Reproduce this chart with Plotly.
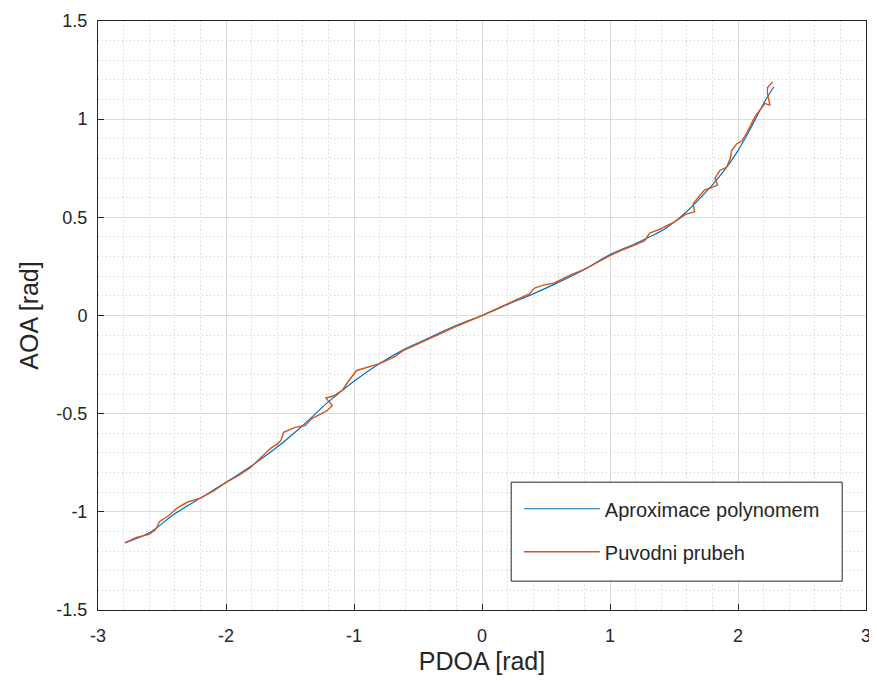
import plotly.graph_objects as go

# polynomial approximation (blue)
poly_x = [-2.79, -2.6, -2.4, -2.2, -2.0, -1.8, -1.6, -1.4, -1.2, -1.0, -0.8, -0.6, -0.4, -0.2,
          0.0, 0.2, 0.4, 0.6, 0.8, 1.0, 1.2, 1.4, 1.5, 1.6, 1.7, 1.8, 1.9, 2.0, 2.1, 2.2, 2.28]
poly_y = [-1.158, -1.107, -1.01, -0.93, -0.85, -0.765, -0.67, -0.56, -0.44, -0.335, -0.245, -0.17, -0.11, -0.05,
          0.0, 0.056, 0.11, 0.17, 0.235, 0.31, 0.367, 0.43, 0.475, 0.53, 0.595, 0.665, 0.745, 0.84, 0.955, 1.08, 1.165]

# original measured curve (orange)
orig_x = [-2.79, -2.70, -2.60, -2.55, -2.52, -2.45, -2.38, -2.30, -2.20, -2.10, -2.00, -1.90, -1.81,
          -1.72, -1.65, -1.60, -1.57, -1.55, -1.46, -1.38, -1.33, -1.21, -1.17, -1.22, -1.16, -1.09,
          -1.05, -0.98, -0.90, -0.80, -0.68, -0.62, -0.50, -0.40, -0.20, 0.00, 0.20, 0.37, 0.41, 0.48,
          0.56, 0.70, 0.80, 1.00, 1.10, 1.20, 1.27, 1.31, 1.39, 1.50, 1.59, 1.66, 1.65, 1.70, 1.74,
          1.79, 1.84, 1.82, 1.86, 1.91, 1.94, 1.95, 1.99, 2.03, 2.07, 2.13, 2.16, 2.21, 2.25, 2.23,
          2.23, 2.27]
orig_y = [-1.158, -1.13, -1.115, -1.09, -1.05, -1.02, -0.98, -0.95, -0.93, -0.895, -0.85, -0.815, -0.775,
          -0.72, -0.675, -0.655, -0.635, -0.595, -0.57, -0.56, -0.525, -0.485, -0.458, -0.42, -0.41, -0.38,
          -0.34, -0.28, -0.265, -0.245, -0.21, -0.18, -0.145, -0.115, -0.055, 0.0, 0.06, 0.11, 0.14, 0.155,
          0.165, 0.21, 0.235, 0.305, 0.335, 0.36, 0.38, 0.42, 0.44, 0.475, 0.515, 0.528, 0.57, 0.61, 0.64,
          0.65, 0.665, 0.70, 0.74, 0.755, 0.80, 0.84, 0.875, 0.89, 0.93, 1.01, 1.035, 1.08, 1.07, 1.13,
          1.16, 1.19]

x_ticks = [-3, -2, -1, 0, 1, 2, 3]
x_labels = ["-3", "-2", "-1", "0", "1", "2", "3"]
y_ticks = [-1.5, -1, -0.5, 0, 0.5, 1, 1.5]
y_labels = ["-1.5", "-1", "-0.5", "0", "0.5", "1", "1.5"]

fig = go.Figure()
fig.add_trace(go.Scatter(x=poly_x, y=poly_y, mode="lines", name="Aproximace polynomem",
                         line=dict(color="#0072BD", width=1.2, shape="spline"),
                         legendgroup="a"))
fig.add_trace(go.Scatter(x=orig_x, y=orig_y, mode="lines", name="Puvodni prubeh",
                         line=dict(color="#D95319", width=1.4), legendgroup="b"))

axis_common = dict(
    showline=True, mirror=True, linecolor="#262626", linewidth=1,
    ticks="inside", ticklen=6, tickcolor="#262626", automargin=False,
    ticklabeloverflow="allow",
    showgrid=True, gridcolor="#dcdcdc", gridwidth=1, zeroline=False,
    tickfont=dict(family="Liberation Sans", size=18, color="#262626"),
    title_font=dict(family="Liberation Sans", size=25, color="#262626"),
)

fig.update_xaxes(range=[-3, 3], tickvals=x_ticks, ticktext=x_labels,
                 title_text="PDOA [rad]", title_standoff=7, ticklabelstandoff=9,
                 minor=dict(dtick=0.2, showgrid=True, gridcolor="#c8c8c8", griddash="1px,3px"),
                 **axis_common)
fig.update_yaxes(range=[-1.5, 1.5], tickvals=y_ticks, ticktext=y_labels,
                 title_text="AOA [rad]", title_standoff=10, ticklabelstandoff=6,
                 minor=dict(dtick=0.1, showgrid=True, gridcolor="#c8c8c8", griddash="1px,3px"),
                 **axis_common)

# legend frame
fig.add_shape(type="rect", xref="paper", yref="paper", x0=0.538, x1=0.969, y0=0.049, y1=0.217,
              line=dict(color="#262626", width=1), fillcolor="white", layer="above")

fig.update_layout(
    width=877, height=681,
    margin=dict(l=90, r=19, t=13, b=79),
    paper_bgcolor="white", plot_bgcolor="white",
    showlegend=True,
    legend=dict(x=0.548, y=0.205, xanchor="left", yanchor="top",
                bgcolor="rgba(0,0,0,0)", borderwidth=0,
                font=dict(family="Liberation Sans", size=20, color="#262626"),
                itemwidth=76, traceorder="grouped", tracegroupgap=14),
)

fig.write_html("out.html")
